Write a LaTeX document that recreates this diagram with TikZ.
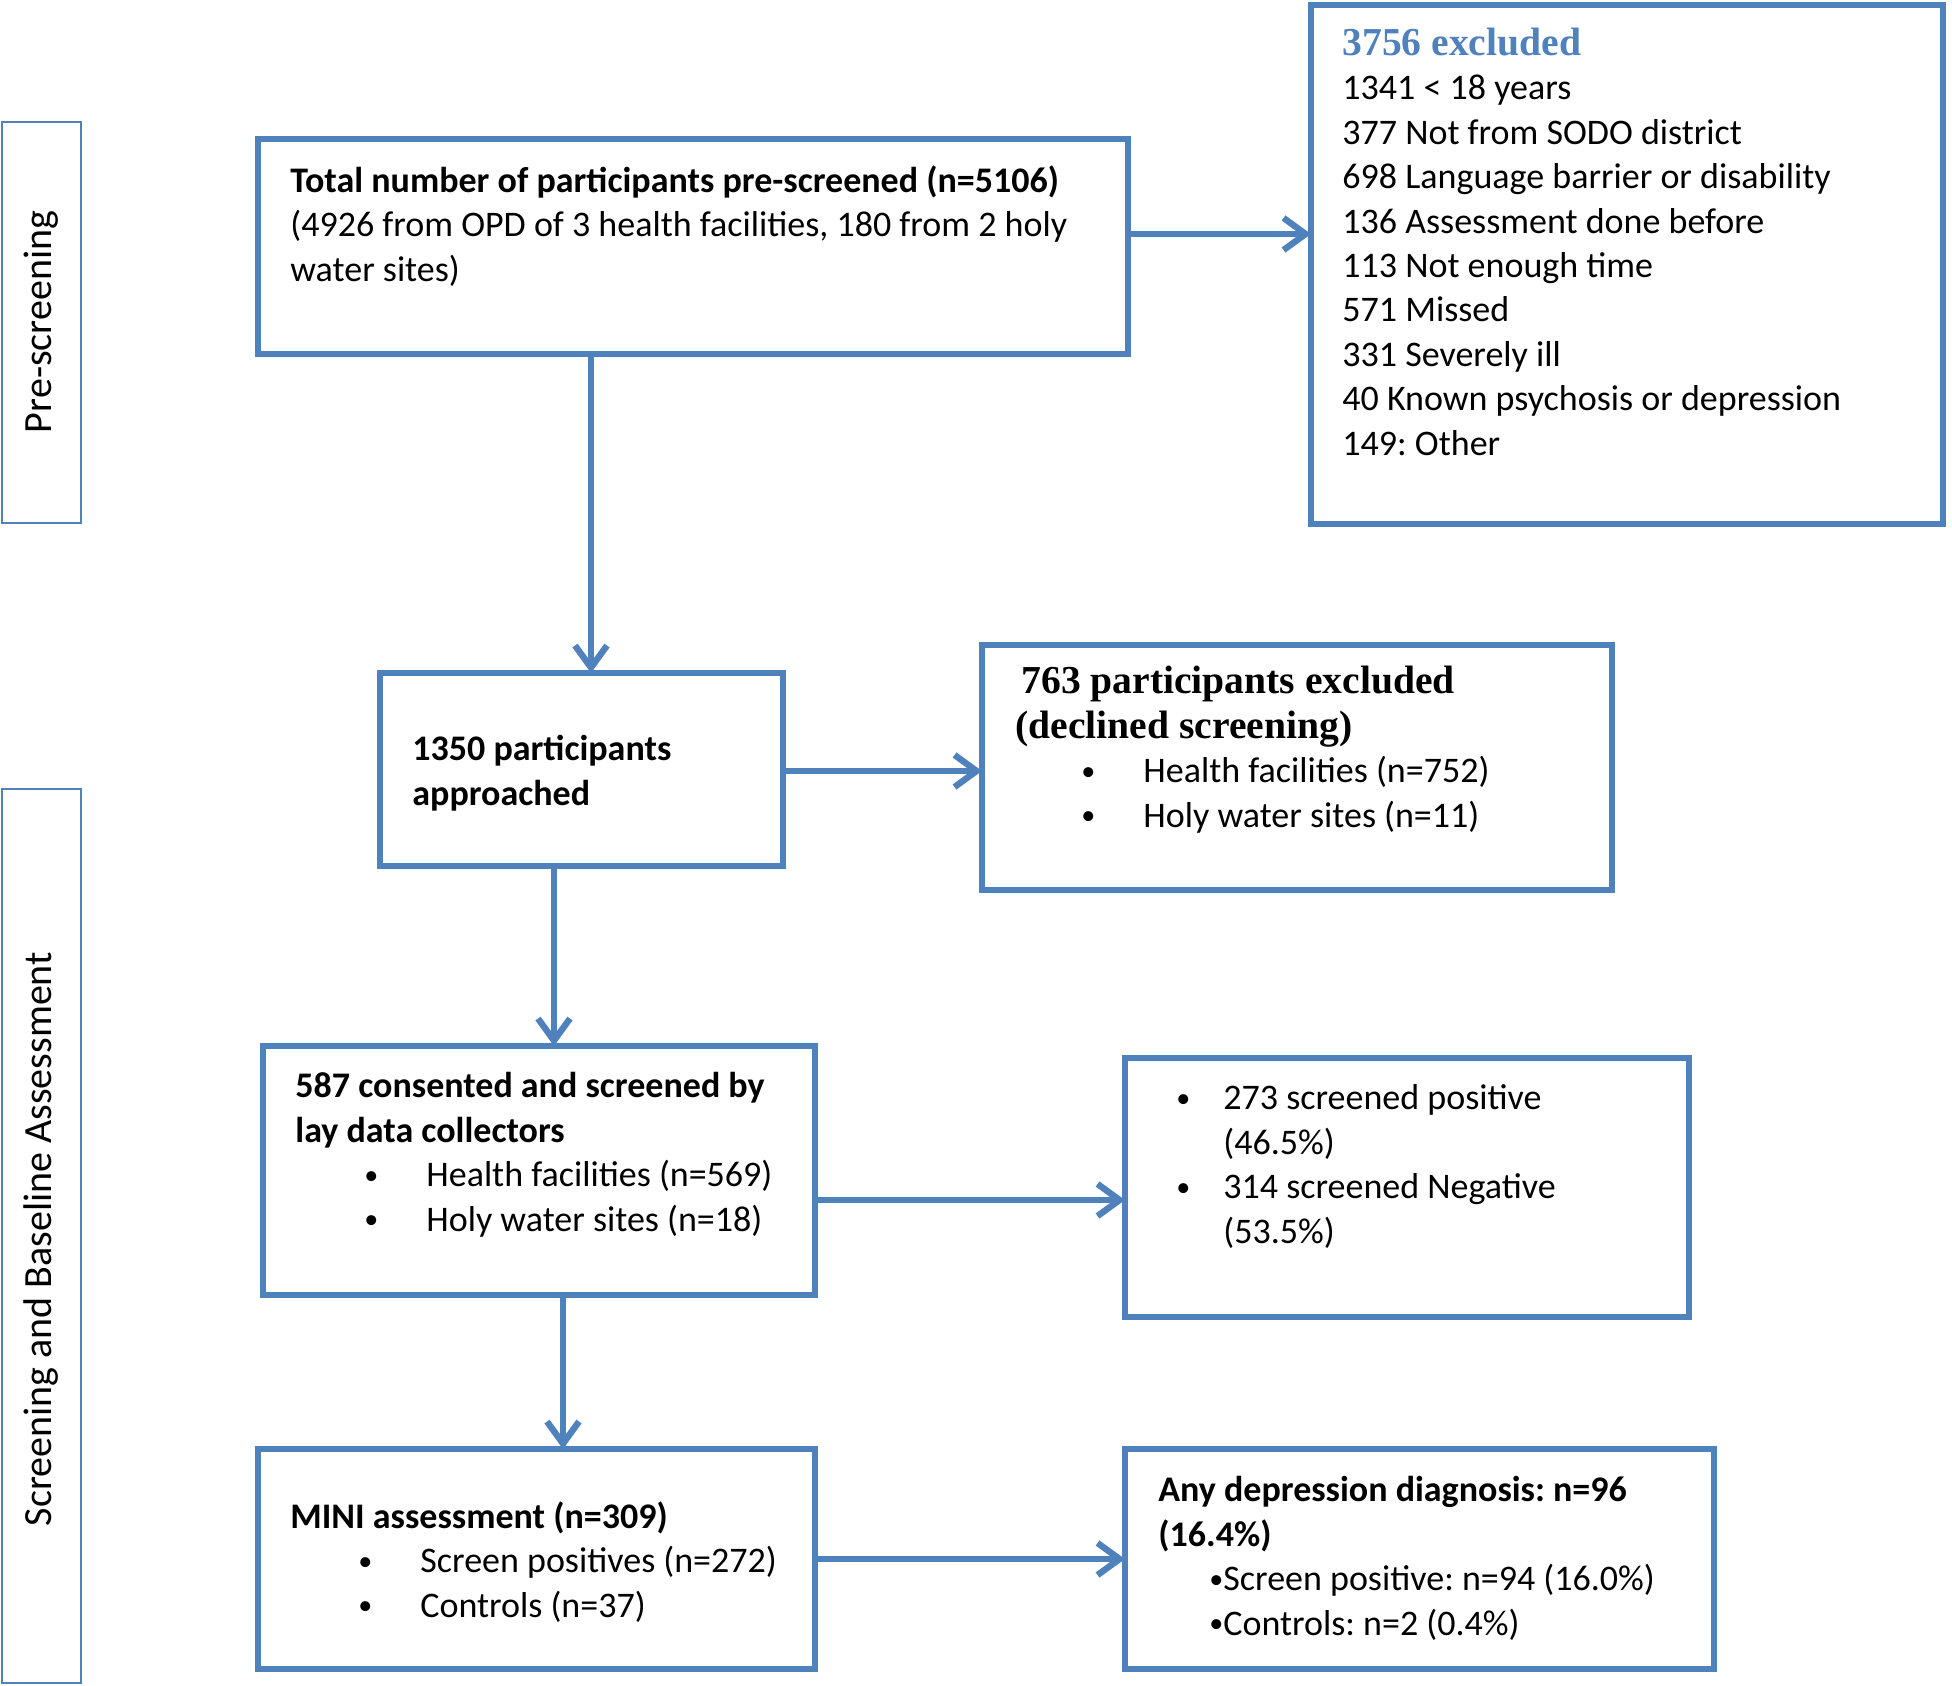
\documentclass[tikz,border=0pt]{standalone}
\usepackage{fontspec}
\usepackage{graphicx}
\setmainfont{Carlito}
\newfontfamily\serifhead{Liberation Serif}
\usetikzlibrary{arrows.meta}
\definecolor{boxblue}{HTML}{4F81BD}
\newcommand\blt[1]{\makebox[#1][l]{\raisebox{0.07em}{\scalebox{0.78}{•}}}}
\newcommand\shead{\serifhead\bfseries\fontsize{19.8}{22.2}\selectfont}
\frenchspacing
\begin{document}
\begin{tikzpicture}[x=0.5pt,y=-0.5pt,
 box/.style={draw=boxblue, line width=2.6pt, inner sep=0pt, outer sep=0pt},
 side/.style={draw=boxblue, line width=1pt, inner sep=0pt, outer sep=0pt},
 txt/.style={anchor=base west, inner sep=0pt, align=left, font=\fontsize{18}{22.2}\selectfont},
 lab/.style={rotate=90, inner sep=0pt, font=\fontsize{20}{24}\selectfont},
 arr/.style={draw=boxblue, line width=3.2pt, -{Straight Barb[length=11pt,width=16pt]}}]
\useasboundingbox (0,0) rectangle (1952,1685);
\fill[white] (0,0) rectangle (1952,1685);
% side boxes
\node[side, minimum width=39.5pt, minimum height=200.5pt] (s1) at (41.5,322.5) {};
\node[side, minimum width=39.5pt, minimum height=447pt] (s2) at (41.5,1236) {};
\node[lab] (l1) at (41,322) {Pre-screening};
\node[lab] (l2) at (41,1239) {Screening and Baseline Assessment};
% boxes
\node[box, minimum width=435pt, minimum height=107.5pt] (total) at (693,246.5) {};
\node[box, minimum width=316pt, minimum height=259.5pt] (excl) at (1627,264.5) {};
\node[box, minimum width=201.5pt, minimum height=96.5pt] (appr) at (581.5,769.5) {};
\node[box, minimum width=315pt, minimum height=122.5pt] (decl) at (1297,767.5) {};
\node[box, minimum width=276pt, minimum height=124.5pt] (cons) at (539,1170.5) {};
\node[box, minimum width=282pt, minimum height=129.5pt] (scr) at (1407,1187.5) {};
\node[box, minimum width=278.5pt, minimum height=110pt] (mini) at (536.5,1559) {};
\node[box, minimum width=294.5pt, minimum height=110pt] (diag) at (1419.5,1559) {};
% texts (anchor = baseline of the last line)
\node[txt] (t1) at (290,281) {\textbf{Total number of participants pre-screened (n=5106)}\\(4926 from OPD of 3 health facilities, 180 from 2 holy\\water sites)};
\node[txt] (t2) at (1342,455) {{\shead\color{boxblue}3756 excluded}\\1341 < 18 years\\377 Not from SODO district\\698 Language barrier or disability\\136 Assessment done before\\113 Not enough time\\571 Missed\\331 Severely ill\\40 Known psychosis or depression\\149: Other};
\node[txt] (t3) at (412,805) {\textbf{1350 participants}\\\textbf{approached}};
\node[txt] (t4) at (1015,827) {{\shead\hspace*{3pt}763 participants excluded}\\{\shead(declined screening)}\\\hspace*{33pt}\blt{31pt}Health facilities (n=752)\\\hspace*{33pt}\blt{31pt}Holy water sites (n=11)};
\node[txt] (t5) at (295,1231) {\textbf{587 consented and screened by}\\\textbf{lay data collectors}\\\hspace*{34.5pt}\blt{31pt}Health facilities (n=569)\\\hspace*{34.5pt}\blt{31pt}Holy water sites (n=18)};
\node[txt] (t6) at (1176,1243) {\blt{23.5pt}273 screened positive\\\hspace*{23.5pt}(46.5\%)\\\blt{23.5pt}314 screened Negative\\\hspace*{23.5pt}(53.5\%)};
\node[txt] (t7) at (290,1617) {\textbf{MINI assessment (n=309)}\\\hspace*{34pt}\blt{31pt}Screen positives (n=272)\\\hspace*{34pt}\blt{31pt}Controls (n=37)};
\node[txt] (t8) at (1158,1635) {\textbf{Any depression diagnosis: n=96}\\\textbf{(16.4\%)}\\\hspace*{25.5pt}\blt{7pt}Screen positive: n=94 (16.0\%)\\\hspace*{25.5pt}\blt{7pt}Controls: n=2 (0.4\%)};
% arrows
\draw[arr] (total.east |- 0,234) -- (excl.west |- 0,234);
\draw[arr] (total.south -| 591,0) -- (appr.north -| 591,0);
\draw[arr] (appr.east |- 0,771) -- (decl.west |- 0,771);
\draw[arr] (appr.south -| 554,0) -- (cons.north -| 554,0);
\draw[arr] (cons.east |- 0,1200) -- (scr.west |- 0,1200);
\draw[arr] (cons.south -| 563,0) -- (mini.north -| 563,0);
\draw[arr] (mini.east |- 0,1559) -- (diag.west |- 0,1559);
\end{tikzpicture}
\end{document}
